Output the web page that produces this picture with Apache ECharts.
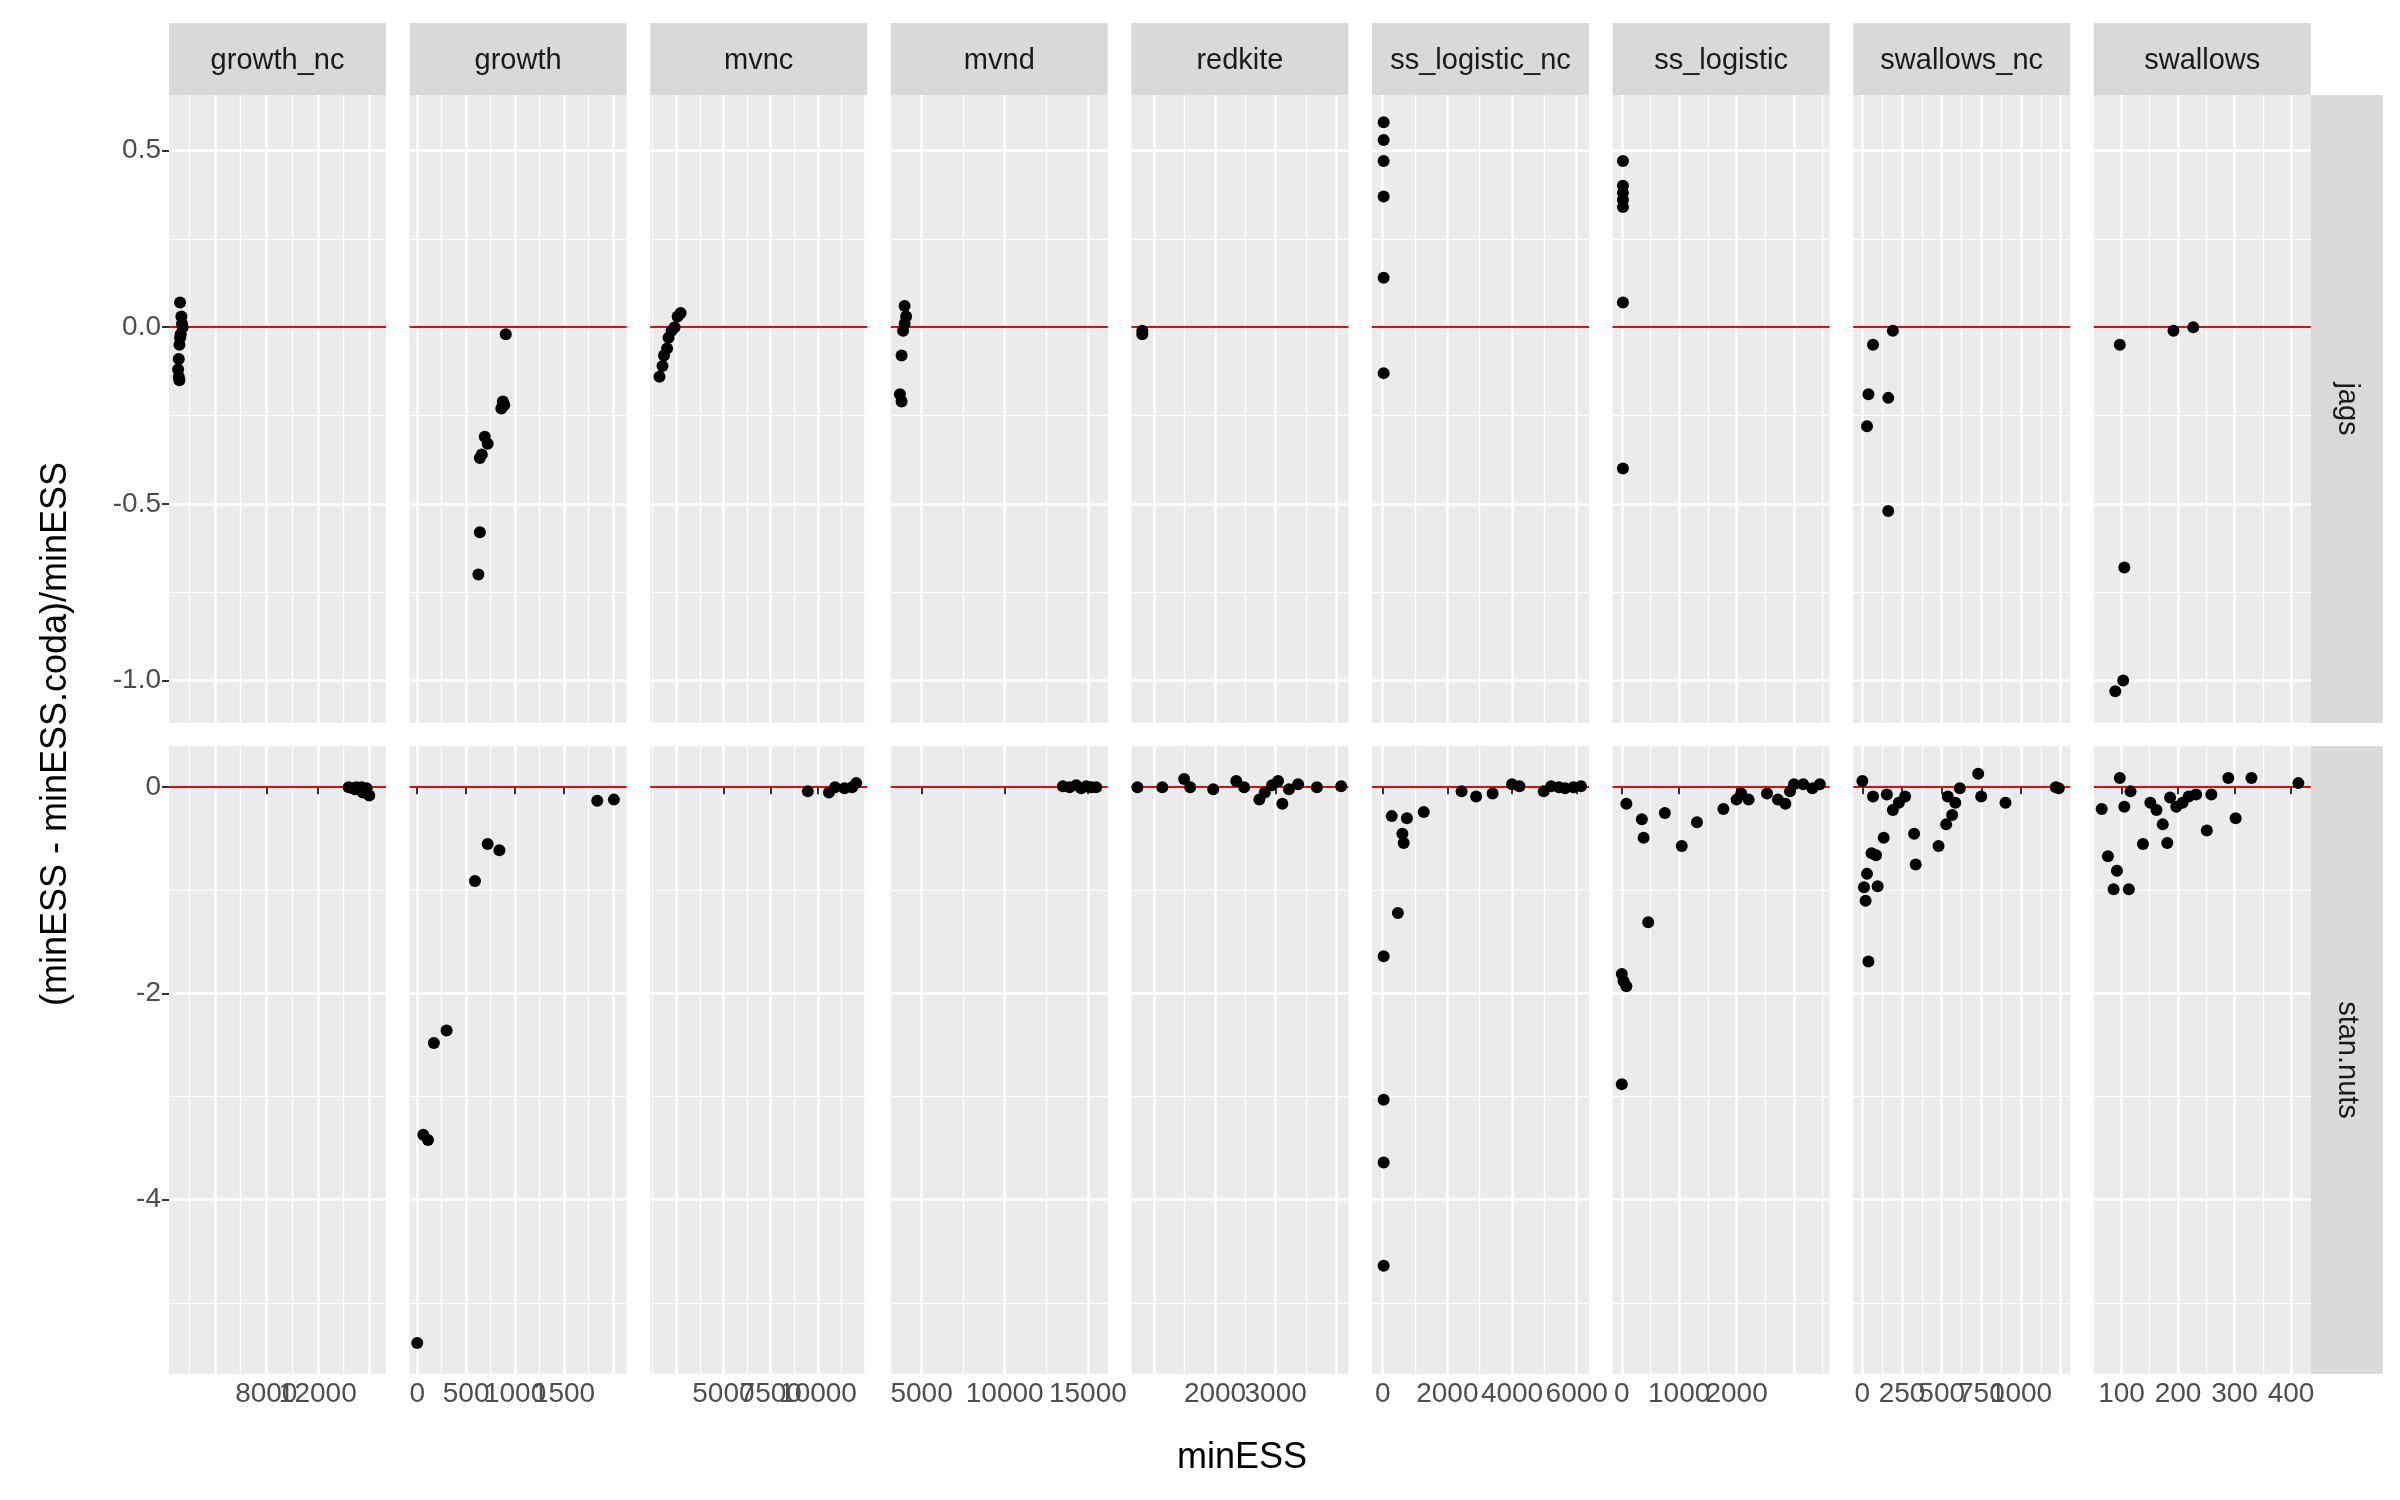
<!DOCTYPE html>
<html>
<head>
<meta charset="utf-8">
<script src="https://cdn.jsdelivr.net/npm/echarts@6/dist/echarts.min.js"></script>
<style>html,body{margin:0;background:#fff}#main{width:2400px;height:1500px}</style>
</head>
<body>
<div id="main"></div>
<script>
// facets
var models = ['growth_nc', 'growth', 'mvnc', 'mvnd', 'redkite', 'ss_logistic_nc', 'ss_logistic', 'swallows_nc', 'swallows'];
var samplers = ['jags', 'stan.nuts'];

// x scales per column (free): range and major ticks
var xRanges = [[440, 17300], [-78, 2140], [1130, 12600], [3150, 16200], [620, 4200], [-330, 6380], [-160, 3620], [-58, 1310], [51, 435]];
var xMajors = [
  [4000, 8000, 12000, 16000],
  [0, 500, 1000, 1500, 2000],
  [2500, 5000, 7500, 10000, 12500],
  [5000, 10000, 15000],
  [1000, 2000, 3000, 4000],
  [0, 2000, 4000, 6000],
  [0, 1000, 2000, 3000],
  [0, 250, 500, 750, 1000, 1250],
  [100, 200, 300, 400]
];

// y scales per row
var yRanges = [[-1.12, 0.657], [-5.69, 0.40]];
var yMajors = [[-1.0, -0.5, 0.0, 0.5], [-4, -2, 0]];
var yDigits = [1, 0];

// points [minESS, relative diff]
var jagsData = [
  [[1300, 0.07], [1400, 0.03], [1500, 0.0], [1350, -0.02], [1250, -0.05], [1200, -0.09], [1150, -0.12], [1200, -0.14], [1250, -0.15], [1450, 0.01], [1300, -0.03]],
  [[905, -0.02], [875, -0.21], [860, -0.23], [890, -0.22], [690, -0.31], [720, -0.33], [660, -0.36], [640, -0.37], [640, -0.58], [625, -0.70]],
  [[2740, 0.04], [2580, 0.03], [2420, 0.0], [2260, -0.01], [2100, -0.03], [2020, -0.06], [1860, -0.08], [1780, -0.11], [1620, -0.14]],
  [[3980, 0.06], [4070, 0.03], [3980, 0.01], [3890, -0.01], [3800, -0.08], [3700, -0.19], [3800, -0.21]],
  [[800, -0.01], [800, -0.02]],
  [[30, 0.58], [30, 0.53], [30, 0.47], [30, 0.37], [30, 0.14], [30, -0.13]],
  [[20, 0.47], [20, 0.40], [20, 0.38], [20, 0.36], [20, 0.34], [20, 0.07], [20, -0.40]],
  [[29, -0.28], [38, -0.19], [67, -0.05], [163, -0.20], [163, -0.52], [192, -0.01]],
  [[89, -1.03], [103, -1.00], [105, -0.68], [97, -0.05], [192, -0.01], [227, 0.0]]
];
var stanData = [
  [[14400, 0.0], [14700, -0.01], [15000, 0.0], [15200, -0.02], [15400, 0.0], [15600, -0.03], [15800, -0.01], [16000, -0.08], [15500, -0.05], [14900, -0.02]],
  [[0, -5.39], [62, -3.37], [110, -3.42], [170, -2.48], [300, -2.36], [590, -0.91], [720, -0.55], [840, -0.61], [1840, -0.13], [2010, -0.12]],
  [[9460, -0.04], [10580, -0.05], [10900, 0.0], [11400, -0.01], [11800, 0.0], [12020, 0.04]],
  [[13500, 0.01], [13900, 0.0], [14300, 0.02], [14600, -0.01], [14900, 0.01], [15200, 0.0], [15500, 0.0]],
  [[720, 0.0], [1130, 0.0], [1490, 0.08], [1590, 0.0], [1970, -0.02], [2350, 0.06], [2480, 0.0], [2730, -0.12], [2940, 0.02], [3040, 0.06], [3110, -0.16], [3370, 0.03], [3680, 0.0], [4080, 0.01], [2820, -0.05], [3220, -0.02]],
  [[30, -4.64], [30, -3.64], [30, -3.03], [30, -1.64], [280, -0.28], [470, -1.22], [610, -0.45], [650, -0.54], [750, -0.30], [1270, -0.24], [2440, -0.04], [2890, -0.09], [3400, -0.06], [4000, 0.03], [4230, 0.01], [4980, -0.04], [5210, 0.01], [5450, 0.0], [5640, -0.01], [5900, 0.0], [6130, 0.01]],
  [[0, -2.88], [0, -1.81], [30, -1.88], [80, -1.93], [80, -0.16], [350, -0.31], [380, -0.49], [460, -1.31], [750, -0.25], [1045, -0.57], [1310, -0.34], [1770, -0.21], [2000, -0.12], [2080, -0.06], [2210, -0.12], [2530, -0.06], [2720, -0.12], [2850, -0.16], [2930, -0.04], [3000, 0.03], [3160, 0.03], [3320, -0.01], [3450, 0.03]],
  [[0, 0.06], [10, -0.97], [20, -1.10], [29, -0.84], [38, -1.69], [58, -0.64], [86, -0.66], [96, -0.96], [67, -0.09], [134, -0.49], [154, -0.07], [192, -0.22], [230, -0.15], [269, -0.09], [326, -0.45], [336, -0.75], [480, -0.57], [528, -0.36], [538, -0.09], [566, -0.27], [586, -0.15], [614, -0.01], [730, 0.13], [749, -0.09], [902, -0.15], [1219, 0.0], [1238, -0.01]],
  [[65, -0.21], [76, -0.67], [86, -0.99], [92, -0.81], [97, 0.09], [105, -0.19], [113, -0.99], [116, -0.04], [138, -0.55], [151, -0.15], [162, -0.22], [173, -0.36], [181, -0.54], [186, -0.10], [197, -0.19], [208, -0.15], [219, -0.09], [232, -0.07], [251, -0.42], [259, -0.07], [289, 0.09], [302, -0.30], [330, 0.09], [413, 0.04]]
];

function minorsOf(majors, range) {
  var step = majors.length > 1 ? majors[1] - majors[0] : 1;
  var out = [];
  for (var v = majors[0] - step * 3.5; v <= range[1]; v += step) {
    if (v >= range[0]) out.push(v);
  }
  return out;
}

var left0 = 169, panelW = 217, stepX = 240.6;
var rowTop = [95, 746], panelH = 628;

var grids = [], xAxes = [], yAxes = [], series = [], graphics = [];

samplers.forEach(function (s, r) {
  models.forEach(function (m, c) {
    var gi = grids.length;
    grids.push({left: left0 + c * stepX, top: rowTop[r], width: panelW, height: panelH,
      show: true, backgroundColor: '#EBEBEB', borderWidth: 0});
    var bottomRow = r === 1, leftCol = c === 0;
    // major x
    xAxes.push({type: 'value', gridIndex: gi, min: xRanges[c][0], max: xRanges[c][1],
      axisLine: {show: false},
      axisTick: {show: bottomRow, length: 7, lineStyle: {color: '#333', width: 2}, customValues: xMajors[c]},
      axisLabel: {show: bottomRow, customValues: xMajors[c], color: '#4D4D4D', fontSize: 28,
        fontFamily: 'Liberation Sans', margin: 6, hideOverlap: false,
        formatter: function (v) { return String(v); }},
      splitLine: {show: true, lineStyle: {color: '#fff', width: 2.5}}, z: 1});
    // minor x
    xAxes.push({type: 'value', gridIndex: gi, min: xRanges[c][0], max: xRanges[c][1],
      axisLine: {show: false}, axisLabel: {show: false},
      axisTick: {show: false, customValues: minorsOf(xMajors[c], xRanges[c])},
      splitLine: {show: true, lineStyle: {color: '#fff', width: 1.2}}, z: 0});
    // major y
    yAxes.push({type: 'value', gridIndex: gi, min: yRanges[r][0], max: yRanges[r][1],
      axisLine: {show: false},
      axisTick: {show: leftCol, length: 7, lineStyle: {color: '#333', width: 2}, customValues: yMajors[r]},
      axisLabel: {show: leftCol, customValues: yMajors[r], color: '#4D4D4D', fontSize: 28,
        fontFamily: 'Liberation Sans', margin: 8, hideOverlap: false,
        formatter: function (v) { return v.toFixed(yDigits[r]); }},
      splitLine: {show: true, lineStyle: {color: '#fff', width: 2.5}}, z: 1});
    // minor y
    yAxes.push({type: 'value', gridIndex: gi, min: yRanges[r][0], max: yRanges[r][1],
      axisLine: {show: false}, axisLabel: {show: false},
      axisTick: {show: false, customValues: minorsOf(yMajors[r], yRanges[r])},
      splitLine: {show: true, lineStyle: {color: '#fff', width: 1.2}}, z: 0});

    series.push({type: 'scatter', xAxisIndex: gi * 2, yAxisIndex: gi * 2,
      data: (r === 0 ? jagsData : stanData)[c], symbolSize: 12, clip: false,
      itemStyle: {color: '#000', opacity: 1}, z: 5,
      markLine: {silent: true, symbol: 'none', label: {show: false}, animation: false,
        lineStyle: {color: '#FF0000', width: 2.2, type: 'solid'}, data: [{yAxis: 0}]}});

    if (r === 0) {
      graphics.push({type: 'rect', shape: {x: left0 + c * stepX, y: 23, width: panelW, height: 72},
        style: {fill: '#D9D9D9'}});
      graphics.push({type: 'text', x: left0 + c * stepX + panelW / 2, y: 61,
        style: {text: m, fill: '#1A1A1A', fontSize: 29, fontFamily: 'Liberation Sans',
          align: 'center', verticalAlign: 'middle', width: panelW, overflow: 'truncate', ellipsis: ''}});
    }
  });
  graphics.push({type: 'rect', shape: {x: left0 + 8 * stepX + panelW, y: rowTop[r], width: 72, height: panelH},
    style: {fill: '#D9D9D9'}});
  graphics.push({type: 'text', x: left0 + 8 * stepX + panelW + 36, y: rowTop[r] + panelH / 2, rotation: -Math.PI / 2,
    style: {text: s, fill: '#1A1A1A', fontSize: 29, fontFamily: 'Liberation Sans', align: 'center', verticalAlign: 'middle'}});
});

graphics.push({type: 'text', x: 1242, y: 1458,
  style: {text: 'minESS', fill: '#000', fontSize: 36, fontFamily: 'Liberation Sans', align: 'center', verticalAlign: 'middle'}});
graphics.push({type: 'text', x: 56, y: 734, rotation: Math.PI / 2,
  style: {text: '(minESS - minESS.coda)/minESS', fill: '#000', fontSize: 36, fontFamily: 'Liberation Sans', align: 'center', verticalAlign: 'middle'}});

var chart = echarts.init(document.getElementById('main'));
chart.setOption({
  animation: false,
  backgroundColor: '#fff',
  grid: grids,
  xAxis: xAxes,
  yAxis: yAxes,
  series: series,
  graphic: graphics
});
</script>
</body>
</html>
